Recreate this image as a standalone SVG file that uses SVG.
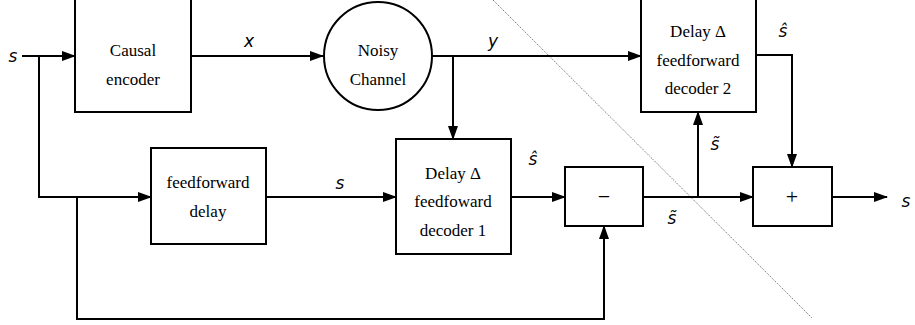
<svg xmlns="http://www.w3.org/2000/svg" width="915" height="325" viewBox="0 0 915 325">
  <defs>
    <marker id="arr" markerWidth="14" markerHeight="10" refX="13" refY="5" orient="auto" markerUnits="userSpaceOnUse">
      <path d="M0,0 L14,5 L0,10 Z" fill="#000"/>
    </marker>
    <style>
      .box { fill: #fff; stroke: #000; stroke-width: 2; }
      .wire { fill: none; stroke: #000; stroke-width: 2; }
      .lbl { font-size: 17px; text-anchor: middle; fill: #000; }
      .op { font-size: 22px; text-anchor: middle; fill: #000; }
      .m { font-style: italic; font-size: 17px; text-anchor: middle; fill: #000; }
    </style>
  </defs>
  <rect width="915" height="325" fill="#fff"/>

  <!-- dotted divider -->
  <line x1="493" y1="0" x2="812" y2="318" stroke="#444" stroke-width="0.8" stroke-dasharray="1.2,1.2"/>

  <g id="connectors">
    <!-- input s to encoder -->
    <path class="wire" d="M22,56 H75" marker-end="url(#arr)"/>
    <!-- branch down to delay -->
    <path class="wire" d="M39,56 V197 H151" marker-end="url(#arr)"/>
    <!-- bypass to subtractor -->
    <path class="wire" d="M77,197 V319 H604 V226" marker-end="url(#arr)"/>
    <!-- encoder to channel -->
    <path class="wire" d="M191,56 H323" marker-end="url(#arr)"/>
    <!-- channel to decoder 2 -->
    <path class="wire" d="M432,56 H641" marker-end="url(#arr)"/>
    <!-- channel to decoder 1 -->
    <path class="wire" d="M453,56 V139" marker-end="url(#arr)"/>
    <!-- delay to decoder 1 -->
    <path class="wire" d="M266,197 H396" marker-end="url(#arr)"/>
    <!-- decoder 1 to subtractor -->
    <path class="wire" d="M511,197 H565" marker-end="url(#arr)"/>
    <!-- subtractor to adder -->
    <path class="wire" d="M643,197 H753" marker-end="url(#arr)"/>
    <!-- subtractor to decoder 2 -->
    <path class="wire" d="M698,197 V112" marker-end="url(#arr)"/>
    <!-- decoder 2 to adder -->
    <path class="wire" d="M756,55 H792 V167" marker-end="url(#arr)"/>
    <!-- output -->
    <path class="wire" d="M832,197 H887" marker-end="url(#arr)"/>
  </g>

  <g font-family="'Liberation Serif', 'DejaVu Serif', serif">
    <g id="encoder">
      <rect class="box" x="75" y="-2" width="116" height="114"/>
      <text class="lbl" x="133" y="56">Causal</text>
      <text class="lbl" x="133" y="85">encoder</text>
    </g>

    <g id="channel">
      <circle class="box" cx="378" cy="56" r="54"/>
      <text class="lbl" x="378" y="56">Noisy</text>
      <text class="lbl" x="378" y="85">Channel</text>
    </g>

    <g id="decoder2">
      <rect class="box" x="641" y="-2" width="115" height="114"/>
      <text class="lbl" x="698" y="37">Delay  Δ</text>
      <text class="lbl" x="698" y="66">feedforward</text>
      <text class="lbl" x="698" y="94">decoder  2</text>
    </g>

    <g id="delay">
      <rect class="box" x="151" y="148" width="115" height="96"/>
      <text class="lbl" x="208" y="188">feedforward</text>
      <text class="lbl" x="208" y="217">delay</text>
    </g>

    <g id="decoder1">
      <rect class="box" x="396" y="139" width="115" height="115"/>
      <text class="lbl" x="453" y="179">Delay  Δ</text>
      <text class="lbl" x="453" y="207">feedfoward</text>
      <text class="lbl" x="453" y="236">decoder  1</text>
    </g>

    <g id="subtractor">
      <rect class="box" x="565" y="167" width="78" height="59"/>
      <text class="op" x="604" y="204">−</text>
    </g>

    <g id="adder">
      <rect class="box" x="753" y="167" width="79" height="59"/>
      <text class="op" x="792" y="204">+</text>
    </g>
  </g>

  <!-- signal labels -->
  <g font-family="'DejaVu Sans', sans-serif">
    <text class="m" x="13" y="62" font-size="19">s</text>
    <text class="m" x="249" y="47">x</text>
    <text class="m" x="493" y="47">y</text>
    <text class="m" x="340" y="189">s</text>
    <text class="m" x="783" y="37">ŝ</text>
    <text class="m" x="533" y="165">ŝ</text>
    <text class="m" x="715" y="150">s̃</text>
    <text class="m" x="672" y="224">s̃</text>
    <text class="m" x="906" y="207" font-size="19">s</text>
  </g>
</svg>
